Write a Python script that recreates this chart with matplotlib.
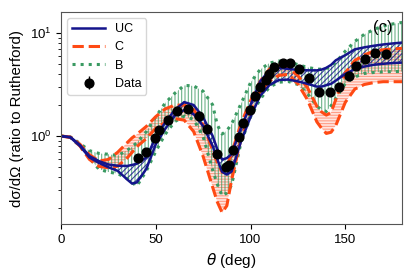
import matplotlib
matplotlib.use("Agg")
import matplotlib.pyplot as plt
import numpy as np

plt.rcParams["font.family"] = ["Liberation Sans", "DejaVu Sans"]
plt.rcParams["hatch.linewidth"] = 0.8

# %% angle grid for the model bands (deg)
theta = [0, 5, 10, 15, 20, 25, 30, 35, 37.5, 40, 45, 50, 55, 60, 65, 70, 75, 80,
         82.5, 85, 87.5, 90, 95, 100, 105, 110, 115, 120, 125, 130, 135, 137.5,
         140, 142.5, 145, 150, 155, 160, 165, 170, 175, 180]

# UC band
uc_hi = [1.0, 0.978, 0.818, 0.639, 0.572, 0.530, 0.515, 0.513, 0.525, 0.538, 0.619,
         0.969, 1.358, 1.788, 2.134, 2.0, 1.516, 1.004, 0.743, 0.591, 0.611, 0.667,
         1.207, 2.0, 3.374, 4.345, 4.584, 4.483, 4.374, 4.345, 4.335, 4.413, 4.594,
         4.900, 5.433, 6.088, 6.932, 7.249, 7.512, 7.733, 7.909, 8.069]
uc_lo = [1.0, 0.967, 0.800, 0.620, 0.549, 0.498, 0.459, 0.378, 0.346, 0.355, 0.480,
         0.831, 1.175, 1.574, 1.788, 1.628, 1.251, 0.803, 0.594, 0.450, 0.423, 0.453,
         0.888, 1.529, 2.445, 3.127, 3.498, 3.529, 3.390, 3.212, 3.017, 3.017, 3.113,
         3.212, 3.451, 4.009, 4.452, 4.718, 4.912, 5.023, 5.103, 5.160]

# C band
c_hi = [1.0, 0.978, 0.833, 0.661, 0.573, 0.593, 0.699, 0.865, 0.960, 1.039, 1.239,
        1.543, 1.837, 1.991, 2.0, 1.808, 1.285, 0.731, 0.554, 0.447, 0.499, 0.684,
        1.326, 2.192, 3.390, 4.472, 4.868, 4.604, 3.849, 2.964, 1.946, 1.714, 1.596,
        1.695, 2.261, 4.108, 5.408, 6.115, 6.659, 6.870, 6.994, 7.104]
c_lo = [1.0, 0.969, 0.800, 0.594, 0.508, 0.492, 0.511, 0.616, 0.695, 0.789, 0.944,
        1.190, 1.358, 1.476, 1.427, 1.106, 0.634, 0.320, 0.229, 0.181, 0.211, 0.374,
        0.948, 1.676, 2.686, 3.420, 3.875, 3.954, 3.205, 2.256, 1.374, 1.188, 1.060,
        1.089, 1.268, 2.124, 2.853, 3.162, 3.299, 3.367, 3.367, 3.367]

# B band
b_hi = [1.0, 0.978, 0.849, 0.722, 0.679, 0.666, 0.647, 0.730, 0.789, 0.863, 1.103,
        1.536, 2.096, 2.598, 3.099, 3.065, 2.722, 2.009, 1.279, 1.046, 1.128, 1.308,
        2.063, 3.299, 4.403, 5.113, 5.348, 5.241, 4.934, 4.634, 4.462, 4.452, 4.522,
        4.718, 5.183, 6.659, 8.272, 9.692, 10.79, 11.69, 12.23, 12.65]
b_lo = [1.0, 0.969, 0.800, 0.611, 0.477, 0.448, 0.431, 0.386, 0.354, 0.327, 0.458,
        0.710, 1.043, 1.380, 1.557, 1.449, 0.982, 0.468, 0.340, 0.263, 0.280, 0.334,
        0.869, 1.529, 2.266, 2.990, 3.329, 3.381, 3.162, 2.586, 1.951, 1.796, 1.729,
        1.964, 2.328, 3.227, 3.739, 4.045, 4.136, 4.192, 4.220, 4.229]

# measured data
data_theta = [40.7, 45.1, 49.5, 51.8, 56.5, 61.3, 67.0, 72.7, 77.2, 82.5, 86.8,
              88.9, 90.8, 93.8, 95.9, 99.8, 102.1, 105.1, 108.2, 110.0, 112.6,
              117.2, 120.9, 125.8, 130.7, 136.3, 142.1, 146.8, 152.1, 155.4,
              160.4, 165.7, 171.3]
data_val = [0.615, 0.704, 0.967, 1.156, 1.44, 1.75, 1.82, 1.56, 1.16, 0.666, 0.497,
            0.523, 0.731, 0.971, 1.35, 1.80, 2.47, 2.99, 3.47, 4.03, 4.71, 5.15,
            5.08, 4.45, 3.63, 2.69, 2.69, 2.96, 3.84, 4.78, 5.55, 6.35, 6.25]

# %%
uc_col = "#14148c"
c_col = "#ff4a14"
b_col = "#3a9a62"

fig = plt.figure(figsize=(4.15, 2.77), dpi=100)
ax = fig.add_axes([0.147, 0.191, 0.822, 0.766])

ax.fill_between(theta, c_lo, c_hi, facecolor=(1.0, 0.6, 0.5, 0.25),
                edgecolor=(1.0, 0.35, 0.2, 0.5), hatch="------", linewidth=0)
ax.fill_between(theta, b_lo, b_hi, facecolor="none", edgecolor=(0.23, 0.6, 0.38, 0.75),
                hatch="|||||", linewidth=0)
ax.fill_between(theta, uc_lo, uc_hi, facecolor="none", edgecolor=(0.08, 0.08, 0.55, 0.8),
                hatch="//////", linewidth=0)

ax.plot(theta, b_hi, ":", color=b_col, lw=2.2, label="B")
ax.plot(theta, b_lo, ":", color=b_col, lw=2.2)
ax.plot(theta, c_hi, "--", color=c_col, lw=2.2, label="C")
ax.plot(theta, c_lo, "--", color=c_col, lw=2.2)
ax.plot(theta, uc_hi, "-", color=uc_col, lw=1.8, label="UC")
ax.plot(theta, uc_lo, "-", color=uc_col, lw=1.8)

yerr = np.array(data_val) * 0.06
ax.errorbar(data_theta, data_val, yerr=yerr, fmt="o", color="black", ms=6.3,
            elinewidth=1, capsize=0, label="Data", zorder=5)

ax.set_yscale("log")
ax.set_xlim(0, 180)
ax.set_ylim(0.14, 16)
ax.set_xticks([0, 50, 100, 150])
ax.tick_params(labelsize=9.5)
ax.set_xlabel(r"$\theta$ (deg)", fontsize=11)
ax.set_ylabel("dσ/dΩ (ratio to Rutherford)", fontsize=10.8)
for s in ax.spines.values():
    s.set_color("#555555")

h, l = ax.get_legend_handles_labels()
order = [l.index(k) for k in ["UC", "C", "B", "Data"]]
ax.legend([h[i] for i in order], [l[i] for i in order], loc="upper left",
          fontsize=9, handlelength=2.6)

ax.text(0.944, 0.925, "(c)", transform=ax.transAxes, ha="center", va="center",
        fontsize=12)

plt.savefig("out.png", dpi=100)
